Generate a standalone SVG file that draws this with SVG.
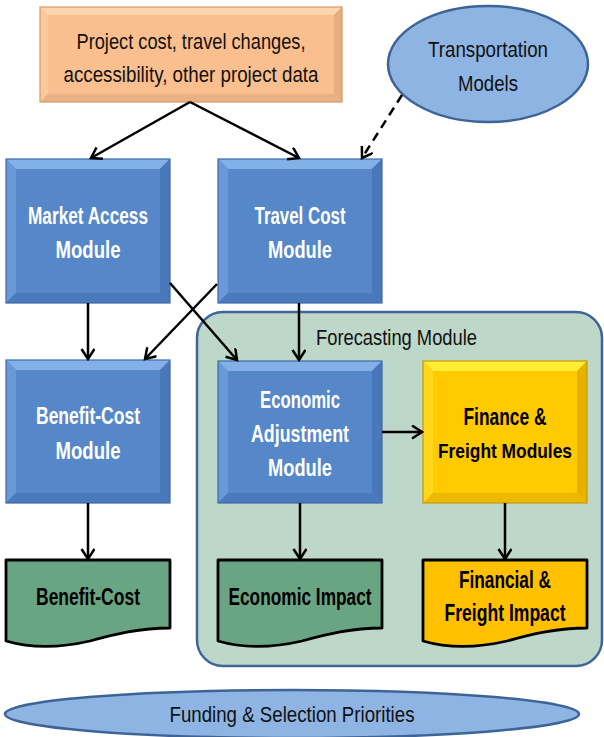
<svg xmlns="http://www.w3.org/2000/svg" width="604" height="737" viewBox="0 0 604 737">
<style>
.bm{fill:#5687C9}.bt{fill:#84B0E8}.bl{fill:#6A99D8}.br{fill:#4878BA}.bb{fill:#4A7ABB}
.bo{fill:none;stroke:#3D6AA6;stroke-width:1.2}
.om{fill:#F9BF8F}.ot{fill:#FDD5AE}.ol{fill:#FBC99C}.or{fill:#E8AE80}.ob{fill:#EAB184}
.oo{fill:none;stroke:#D49A6A;stroke-width:1.2}
.ym{fill:#FFCA00}.yt{fill:#FFEE33}.yl{fill:#FFD71A}.yr{fill:#E6B200}.yb{fill:#EDB800}
.yo{fill:none;stroke:#C89A00;stroke-width:1.2}
.doc{stroke:#000;stroke-width:2.8;stroke-linejoin:round}
.dg{fill:#6AA583}.dy{fill:#FFC000}
.ell{fill:#8EB4E3;stroke:#3E6496;stroke-width:2.5}
.wt{font-family:"Liberation Sans",Arial,sans-serif;font-weight:bold;font-size:23px;fill:#fff;text-anchor:middle}
.kt{font-family:"Liberation Sans",Arial,sans-serif;font-weight:bold;font-size:23px;fill:#000;text-anchor:middle}
.rt{font-family:"Liberation Sans",Arial,sans-serif;font-size:22.5px;fill:#111;text-anchor:middle}
.ln{fill:none;stroke:#000;stroke-width:2.5;marker-end:url(#ah)}
</style>
<defs>
<marker id="ah" markerUnits="userSpaceOnUse" markerWidth="16" markerHeight="16" refX="11" refY="7" orient="auto">
<path d="M1,0.5 L11,7 L1,13.5" fill="none" stroke="#000" stroke-width="2.5"/>
</marker>
</defs>

<g id="forecasting-module">
<rect x="197" y="312" width="405" height="354" rx="26" fill="#BDD7C8" stroke="#3F6696" stroke-width="2.5"/>
<text x="316" y="345" class="rt" style="text-anchor:start" textLength="161" lengthAdjust="spacingAndGlyphs">Forecasting Module</text>
</g>

<g id="project-data">
<rect x="40" y="7" width="302" height="95" class="om"/>
<polygon points="40,7 342,7 334,15 48,15" class="ot"/>
<polygon points="40,7 48,15 48,94 40,102" class="ol"/>
<polygon points="342,7 342,102 334,94 334,15" class="or"/>
<polygon points="40,102 48,94 334,94 342,102" class="ob"/>
<rect x="40" y="7" width="302" height="95" class="oo"/>
<text x="191" y="49" class="rt" textLength="229" lengthAdjust="spacingAndGlyphs">Project cost, travel changes,</text>
<text x="191" y="82" class="rt" textLength="255" lengthAdjust="spacingAndGlyphs">accessibility, other project data</text>
</g>

<g id="transportation-models">
<ellipse cx="488" cy="64" rx="100" ry="58" class="ell"/>
<text x="488" y="57" class="rt" textLength="120" lengthAdjust="spacingAndGlyphs">Transportation</text>
<text x="488" y="91" class="rt" textLength="60" lengthAdjust="spacingAndGlyphs">Models</text>
</g>

<g id="market-access">
<rect x="6" y="159" width="164" height="144" class="bm"/>
<polygon points="6,159 170,159 160,169 16,169" class="bt"/>
<polygon points="6,159 16,169 16,293 6,303" class="bl"/>
<polygon points="170,159 170,303 160,293 160,169" class="br"/>
<polygon points="6,303 16,293 160,293 170,303" class="bb"/>
<rect x="6" y="159" width="164" height="144" class="bo"/>
<text x="88" y="224" class="wt" textLength="120" lengthAdjust="spacingAndGlyphs">Market Access</text>
<text x="88" y="258" class="wt" textLength="65" lengthAdjust="spacingAndGlyphs">Module</text>
</g>

<g id="travel-cost">
<rect x="218" y="159" width="164" height="144" class="bm"/>
<polygon points="218,159 382,159 372,169 228,169" class="bt"/>
<polygon points="218,159 228,169 228,293 218,303" class="bl"/>
<polygon points="382,159 382,303 372,293 372,169" class="br"/>
<polygon points="218,303 228,293 372,293 382,303" class="bb"/>
<rect x="218" y="159" width="164" height="144" class="bo"/>
<text x="300" y="224" class="wt" textLength="91" lengthAdjust="spacingAndGlyphs">Travel Cost</text>
<text x="300" y="258" class="wt" textLength="64" lengthAdjust="spacingAndGlyphs">Module</text>
</g>

<g id="benefit-cost-module">
<rect x="6" y="360" width="164" height="143" class="bm"/>
<polygon points="6,360 170,360 160,370 16,370" class="bt"/>
<polygon points="6,360 16,370 16,493 6,503" class="bl"/>
<polygon points="170,360 170,503 160,493 160,370" class="br"/>
<polygon points="6,503 16,493 160,493 170,503" class="bb"/>
<rect x="6" y="360" width="164" height="143" class="bo"/>
<text x="88" y="424" class="wt" textLength="104" lengthAdjust="spacingAndGlyphs">Benefit-Cost</text>
<text x="88" y="459" class="wt" textLength="65" lengthAdjust="spacingAndGlyphs">Module</text>
</g>

<g id="economic-adjustment">
<rect x="218" y="361" width="164" height="142" class="bm"/>
<polygon points="218,361 382,361 372,371 228,371" class="bt"/>
<polygon points="218,361 228,371 228,493 218,503" class="bl"/>
<polygon points="382,361 382,503 372,493 372,371" class="br"/>
<polygon points="218,503 228,493 372,493 382,503" class="bb"/>
<rect x="218" y="361" width="164" height="142" class="bo"/>
<text x="300" y="408" class="wt" textLength="80" lengthAdjust="spacingAndGlyphs">Economic</text>
<text x="300" y="442" class="wt" textLength="98" lengthAdjust="spacingAndGlyphs">Adjustment</text>
<text x="300" y="476" class="wt" textLength="64" lengthAdjust="spacingAndGlyphs">Module</text>
</g>

<g id="finance-freight">
<rect x="423" y="361" width="164" height="142" class="ym"/>
<polygon points="423,361 587,361 577,371 433,371" class="yt"/>
<polygon points="423,361 433,371 433,493 423,503" class="yl"/>
<polygon points="587,361 587,503 577,493 577,371" class="yr"/>
<polygon points="423,503 433,493 577,493 587,503" class="yb"/>
<rect x="423" y="361" width="164" height="142" class="yo"/>
<text x="505" y="425" class="kt" textLength="83" lengthAdjust="spacingAndGlyphs">Finance &amp;</text>
<text x="505" y="458" class="kt" style="font-size:20.5px" textLength="134" lengthAdjust="spacingAndGlyphs">Freight Modules</text>
</g>

<g id="benefit-cost-output">
<path d="M6,560 H170 V628 C140,628 115,634 90,641 C60,648 30,648 6,641 Z" class="doc dg"/>
<text x="88" y="605" class="kt" textLength="104" lengthAdjust="spacingAndGlyphs">Benefit-Cost</text>
</g>

<g id="economic-impact">
<path d="M218,560 H382 V628 C352,628 327,634 302,641 C272,648 242,648 218,641 Z" class="doc dg"/>
<text x="300" y="605" class="kt" textLength="143" lengthAdjust="spacingAndGlyphs">Economic Impact</text>
</g>

<g id="financial-freight-impact">
<path d="M423,560 H587 V628 C557,628 532,634 507,641 C477,648 447,648 423,641 Z" class="doc dy"/>
<text x="505" y="588" class="kt" textLength="92" lengthAdjust="spacingAndGlyphs">Financial &amp;</text>
<text x="505" y="621" class="kt" textLength="121" lengthAdjust="spacingAndGlyphs">Freight Impact</text>
</g>

<g id="funding-priorities">
<ellipse cx="292" cy="714" rx="287" ry="24" class="ell"/>
<text x="292" y="722" class="rt" textLength="245" lengthAdjust="spacingAndGlyphs">Funding &amp; Selection Priorities</text>
</g>

<g id="connectors">
<line x1="190" y1="102" x2="91" y2="158" class="ln"/>
<line x1="190" y1="102" x2="299" y2="158" class="ln"/>
<line x1="402" y1="95" x2="362" y2="158" class="ln" stroke-dasharray="9,6"/>
<line x1="88" y1="303" x2="88" y2="359" class="ln"/>
<line x1="299" y1="303" x2="299" y2="360" class="ln"/>
<line x1="170" y1="283" x2="237" y2="360" class="ln"/>
<line x1="217" y1="284" x2="145" y2="359" class="ln"/>
<line x1="382" y1="432" x2="422" y2="432" class="ln"/>
<line x1="88" y1="503" x2="88" y2="559" class="ln"/>
<line x1="300" y1="503" x2="300" y2="559" class="ln"/>
<line x1="505" y1="503" x2="505" y2="559" class="ln"/>
</g>
</svg>
